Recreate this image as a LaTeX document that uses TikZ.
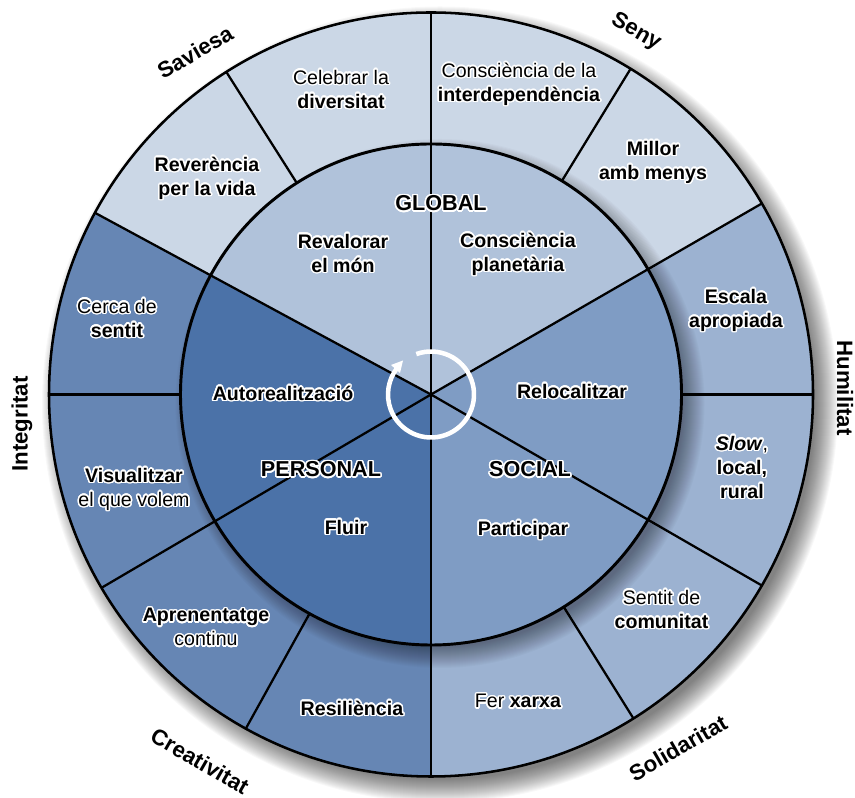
\documentclass[tikz,border=0pt]{standalone}
\usepackage{fontspec}
\setmainfont{Liberation Sans}
\usepackage{contour}
\contourlength{1.1pt}
\contournumber{24}
\usetikzlibrary{calc}
\definecolor{ringG}{HTML}{CBD7E6}
\definecolor{ringS}{HTML}{9CB2D1}
\definecolor{ringP}{HTML}{6686B4}
\definecolor{coreG}{HTML}{B0C2DA}
\definecolor{coreS}{HTML}{7F9CC4}
\definecolor{coreP}{HTML}{4B72A8}
\newcommand{\hl}[1]{\contour{white}{#1}}
\newcommand{\bhl}[1]{\contour{white}{\textbf{#1}}}
\tikzset{
  x=0.75pt,y=0.75pt,
  lbl/.style={font=\fontsize{14.7pt}{18pt}\selectfont,align=center,inner sep=0pt,text=black},
  virtue/.style={font=\fontsize{16.7pt}{18pt}\selectfont\bfseries,inner sep=0pt,text=black},
  realm/.style={font=\fontsize{16.2pt}{18pt}\selectfont\bfseries,inner sep=0pt,text=black},
  divider/.style={draw=black,line width=1.7pt},
  rim/.style={draw=black,line width=1.9pt},
  corerim/.style={draw=black,line width=2.2pt},
}
\def\Ro{382}
\def\Ri{250.5}
\def\Ag{30}
\def\Ap{151.6}
\def\As{270}
\begin{document}
\begin{tikzpicture}
\useasboundingbox (0,0) rectangle (855,798);
\coordinate (c) at (431,403.5);
% outer cast shadow, to the lower right
\foreach \i in {1,...,24}{
  \fill[black,opacity=0.028] ($(c)+(9,-10)$) circle ({\Ro-8+\i});
}
% outer ring sectors
\fill[ringG] (c) -- ++(\Ag:\Ro) arc (\Ag:\Ap:\Ro) -- cycle;
\fill[ringP] (c) -- ++(\Ap:\Ro) arc (\Ap:\As:\Ro) -- cycle;
\fill[ringS] (c) -- ++(-90:\Ro) arc (-90:\Ag:\Ro) -- cycle;
% ring dividers
\foreach \a in {0,30,58.5,90,122.4,151.6,180,210.4,241,270,302,330}{
  \draw[divider] (c) -- ++(\a:\Ro);
}
\draw[rim] (c) circle (\Ro);
% shadow of the core on the ring
\foreach \i in {1,...,22}{
  \fill[black,opacity=0.018] ($(c)+(9,-9)$) circle ({\Ri-8+\i});
}
% core sectors
\fill[coreG] (c) -- ++(\Ag:\Ri) arc (\Ag:\Ap:\Ri) -- cycle;
\fill[coreP] (c) -- ++(\Ap:\Ri) arc (\Ap:\As:\Ri) -- cycle;
\fill[coreS] (c) -- ++(-90:\Ri) arc (-90:\Ag:\Ri) -- cycle;
\foreach \a in {30,90,151.6,210.4,270,330}{
  \draw[divider] (c) -- ++(\a:\Ri);
}
\draw[corerim] (c) circle (\Ri);
% cycle arrow
\draw[white,line width=3.4pt] ($(c)+(110:43)$) arc (110:-218:43);
\fill[white] (403,437.5) -- (391,433) -- (400,425) -- cycle;
% realm names
\node[realm] (tg) at (441,594) {\contour{white}{GLOBAL}};
\node[realm] (tp) at (321,328) {\contour{white}{PERSONAL}};
\node[realm] (ts) at (530,328) {\contour{white}{SOCIAL}};
% core labels
\node[lbl] (n1) at (343,544) {\bhl{Revalorar}\\\bhl{el món}};
\node[lbl] (n2) at (518,543) {\bhl{Consciència}\\\bhl{planetària}};
\node[lbl] (n3) at (283,404) {\bhl{Autorealització}};
\node[lbl] (n4) at (572,406) {\bhl{Relocalitzar}};
\node[lbl] (n5) at (346,270) {\bhl{Fluir}};
\node[lbl] (n6) at (523,267) {\bhl{Participar}};
% ring labels
\node[lbl] (r1) at (341,708) {\hl{Celebrar la}\\\bhl{diversitat}};
\node[lbl] (r2) at (519,713) {\hl{Consciència de la}\\\bhl{interdependència}};
\node[lbl] (r3) at (653,635) {\bhl{Millor}\\\bhl{amb menys}};
\node[lbl] (r4) at (207,619) {\bhl{Reverència}\\\bhl{per la vida}};
\node[lbl] (r5) at (117,479) {\hl{Cerca de}\\\bhl{sentit}};
\node[lbl] (r6) at (736,487) {\bhl{Escala}\\\bhl{apropiada}};
\node[lbl] (r7) at (742,330) {\contour{white}{\textbf{\textit{Slow}},}\\\bhl{local,}\\\bhl{rural}};
\node[lbl] (r8) at (134,308) {\bhl{Visualitzar}\\\hl{el que volem}};
\node[lbl] (r9) at (206,170) {\bhl{Aprenentatge}\\\hl{continu}};
\node[lbl] (r10) at (352,89) {\bhl{Resiliència}};
\node[lbl] (r11) at (518,96) {\contour{white}{Fer \textbf{xarxa}}};
\node[lbl] (r12) at (661.5,188) {\hl{Sentit de}\\\bhl{comunitat}};
% virtue labels
\node[virtue,rotate=30] (v1) at (195,746) {Saviesa};
\node[virtue,rotate=-30] (v2) at (636,766) {Seny};
\node[virtue,rotate=-90] (v3) at (845,410) {Humilitat};
\node[virtue,rotate=30] (v4) at (678,50) {Solidaritat};
\node[virtue,rotate=-30] (v5) at (200,37) {Creativitat};
\node[virtue,rotate=90] (v6) at (22,374) {Integritat};
\end{tikzpicture}
\end{document}
